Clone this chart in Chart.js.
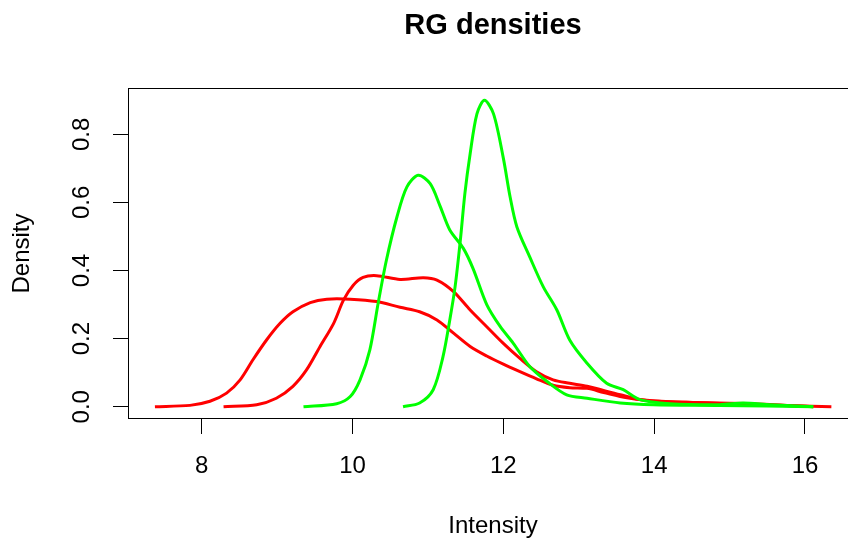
<!DOCTYPE html>
<html>
<head>
<meta charset="utf-8">
<script src="https://cdn.jsdelivr.net/npm/chart.js@4/dist/chart.umd.min.js"></script>
<style>
html,body{margin:0;padding:0;background:#fff;overflow:hidden;width:848px;height:542px;}
canvas{display:block;}
</style>
</head>
<body>
<canvas id="c" width="858" height="542"></canvas>
<script>
const chartTitle = "RG densities";
const xAxisTitle = "Intensity";
const yAxisTitle = "Density";
const xTicks = [8, 10, 12, 14, 16];
const yTicks = [0.0, 0.2, 0.4, 0.6, 0.8];
const xMin = 7.023, xMax = 16.703;
const yMin = -0.036, yMax = 0.936;

const red1X = [7.38, 7.845, 8.11, 8.33, 8.51, 8.68, 8.86, 9.04, 9.21, 9.44, 9.66, 9.97, 10.32, 10.63, 10.89, 11.12, 11.34, 11.56, 11.78, 12.0, 12.22, 12.44, 12.66, 12.88, 13.11, 13.33, 13.64, 13.9, 14.43, 15.31, 16.11];
const red1Y = [0, 0.004, 0.016, 0.040, 0.079, 0.138, 0.196, 0.245, 0.279, 0.306, 0.316, 0.316, 0.309, 0.292, 0.279, 0.255, 0.216, 0.177, 0.149, 0.125, 0.103, 0.082, 0.063, 0.056, 0.054, 0.042, 0.026, 0.019, 0.013, 0.009, 0];

const red2X = [8.29, 8.73, 8.99, 9.21, 9.39, 9.57, 9.75, 9.88, 10.01, 10.14, 10.32, 10.63, 10.94, 11.12, 11.34, 11.56, 11.78, 12.0, 12.22, 12.44, 12.66, 12.88, 13.11, 13.55, 13.9, 14.43, 15.31, 16.35];
const red2Y = [0, 0.006, 0.025, 0.060, 0.108, 0.177, 0.245, 0.313, 0.357, 0.380, 0.385, 0.374, 0.379, 0.372, 0.338, 0.284, 0.235, 0.186, 0.142, 0.103, 0.079, 0.069, 0.06, 0.035, 0.018, 0.013, 0.006, 0];

const green1X = [9.35, 9.79, 9.97, 10.10, 10.23, 10.34, 10.45, 10.59, 10.72, 10.87, 11.03, 11.16, 11.29, 11.47, 11.6, 11.78, 11.96, 12.13, 12.35, 12.58, 12.84, 13.11, 13.55, 13.99, 14.87, 16.11];
const green1Y = [0, 0.009, 0.030, 0.079, 0.167, 0.304, 0.431, 0.558, 0.645, 0.68, 0.655, 0.59, 0.519, 0.465, 0.405, 0.3, 0.235, 0.187, 0.118, 0.074, 0.035, 0.025, 0.011, 0.006, 0.004, 0];

const green2X = [10.67, 10.89, 11.07, 11.2, 11.29, 11.36, 11.43, 11.49, 11.56, 11.65, 11.75, 11.87, 12.0, 12.09, 12.18, 12.35, 12.53, 12.71, 12.88, 13.11, 13.37, 13.59, 13.81, 14.21, 14.87, 15.18, 15.54, 16.11];
const green2Y = [0, 0.011, 0.05, 0.147, 0.255, 0.352, 0.489, 0.626, 0.743, 0.86, 0.9, 0.86, 0.73, 0.616, 0.528, 0.44, 0.352, 0.284, 0.196, 0.128, 0.069, 0.05, 0.021, 0.009, 0.006, 0.011, 0.006, 0];

function pts(xs, ys){ return xs.map((x,i)=>({x:x, y:ys[i]})); }

const FONT = "'Liberation Sans', Arial, Helvetica, sans-serif";
Chart.defaults.font.family = FONT;
Chart.defaults.color = '#000';

const boxPlugin = {
  id: 'box',
  afterDraw(chart){
    const a = chart.chartArea, ctx = chart.ctx;
    ctx.save();
    ctx.strokeStyle = '#000';
    ctx.lineWidth = 1;
    const l = Math.round(a.left)+0.5, t = Math.round(a.top)+0.5, r = Math.round(a.right)-0.5, b = Math.round(a.bottom)-0.5;
    ctx.strokeRect(l, t, r-l, b-t);
    ctx.restore();
  }
};

function ds(xs, ys, color, order){
  return {data: pts(xs, ys), borderColor: color, backgroundColor: color, borderWidth: 3,
    pointRadius: 0, fill: false, tension: 0.3, order: order};
}

new Chart(document.getElementById('c'), {
  type: 'line',
  data: {
    datasets: [
      ds(red1X, red1Y, '#ff0000', 4),
      ds(red2X, red2Y, '#ff0000', 3),
      ds(green1X, green1Y, '#00ff00', 2),
      ds(green2X, green2Y, '#00ff00', 1)
    ]
  },
  plugins: [boxPlugin],
  options: {
    responsive: false,
    animation: false,
    layout: {padding: {top: 0, left: 0, right: 0, bottom: 0}},
    plugins: {
      legend: {display: false},
      tooltip: {enabled: false},
      title: {
        display: true, text: chartTitle, fullSize: false, color: '#000',
        font: {family: FONT, size: 29, weight: 'bold', lineHeight: 1.2},
        padding: {top: 8.6, bottom: 44.6}
      }
    },
    scales: {
      x: {
        type: 'linear', min: xMin, max: xMax,
        afterBuildTicks: s => { s.ticks = xTicks.map(v => ({value: v})); },
        afterFit: s => { s.height = 123; },
        border: {display: false},
        grid: {drawOnChartArea: false, drawTicks: true, tickLength: 15, tickColor: '#000', tickWidth: 1},
        ticks: {padding: 18.3, font: {size: 24, lineHeight: 1.2}, color: '#000', maxRotation: 0, minRotation: 0,
          callback: v => String(v)},
        title: {display: true, text: xAxisTitle, color: '#000', font: {size: 24, lineHeight: 1.2}, padding: {top: 0, bottom: 0.9}}
      },
      y: {
        type: 'linear', min: yMin, max: yMax,
        afterBuildTicks: s => { s.ticks = yTicks.map(v => ({value: v})); },
        afterFit: s => { s.width = 128; },
        border: {display: false},
        grid: {drawOnChartArea: false, drawTicks: true, tickLength: 15, tickColor: '#000', tickWidth: 1},
        ticks: {padding: 13.9, font: {size: 24, lineHeight: 1.2}, color: '#000', minRotation: 90, maxRotation: 90,
          crossAlign: 'center', callback: v => Number(v).toFixed(1)},
        title: {display: true, text: yAxisTitle, color: '#000', font: {size: 24, lineHeight: 1.2}, padding: {top: 7.5, bottom: 0}}
      }
    }
  }
});
</script>
</body>
</html>
